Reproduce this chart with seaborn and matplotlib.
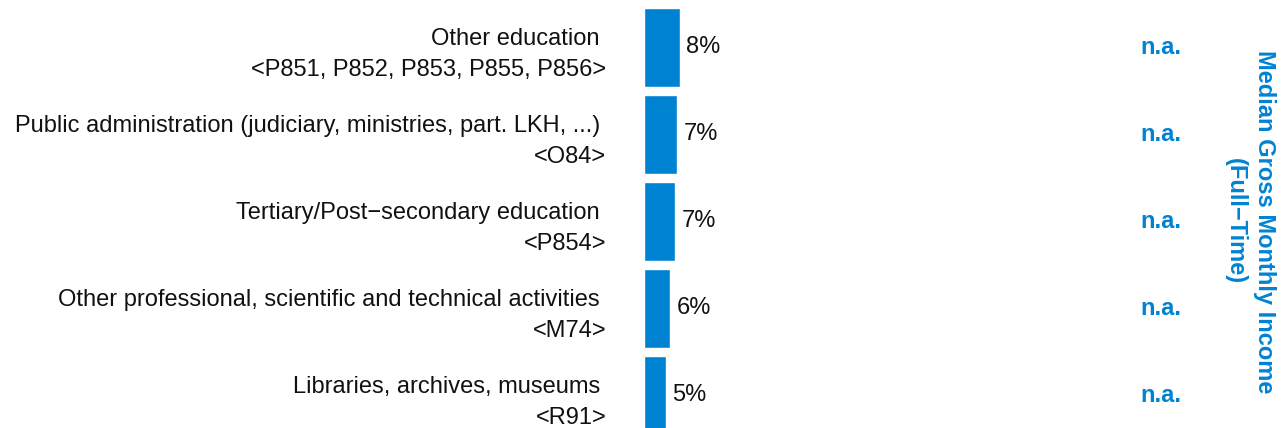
import pandas as pd
import seaborn as sns
from matplotlib import pyplot as plt

blue = "#0082D3"

categories = [
    "Other education \n<P851, P852, P853, P855, P856>",
    "Public administration (judiciary, ministries, part. LKH, ...) \n<O84>",
    "Tertiary/Post\u2212secondary education \n<P854>",
    "Other professional, scientific and technical activities \n<M74>",
    "Libraries, archives, museums \n<R91>",
]
share = [8.0, 7.4, 6.9, 5.8, 4.9]
share_labels = ["8%", "7%", "7%", "6%", "5%"]
income_labels = ["n.a.", "n.a.", "n.a.", "n.a.", "n.a."]

df = pd.DataFrame({"category": categories, "share": share})

sns.set_style("white")
plt.rcParams["font.family"] = ["Liberation Sans", "DejaVu Sans"]

fig = plt.figure(figsize=(12.84, 4.28), dpi=100)
ax = fig.add_axes([644 / 1284, 0, (1284 - 644) / 1284, 1])

sns.barplot(data=df, x="share", y="category", orient="h", color=blue,
            width=0.9, saturation=1, ax=ax)

ax.set_xlim(0, 142)
ax.set_ylim(4.374, -0.546)
ax.set_xticks([])
ax.set_xlabel("")
ax.set_ylabel("")
for s in ax.spines.values():
    s.set_visible(False)

ax.tick_params(axis="y", length=0, pad=27)
for lab in ax.get_yticklabels():
    lab.set_fontsize(17)
    lab.set_linespacing(1.55)
    lab.set_color("#111111")

for i, (v, t) in enumerate(zip(share, share_labels)):
    ax.annotate(t, (v, i), xytext=(4.5, 0), textcoords="offset points",
                ha="left", va="center", fontsize=17, color="#111111")

# n.a. column, x given in figure pixels -> axes fraction
na_x = (1161 - 644) / (1284 - 644)
for i, t in enumerate(income_labels):
    ax.text(na_x, i, t, transform=ax.get_yaxis_transform(),
            ha="center", va="center", fontsize=17, fontweight="bold",
            color=blue)

fig.text(1250 / 1284, 0.4825, "Median Gross Monthly Income\n(Full\u2212Time)",
         rotation=270, ha="center", va="center", fontsize=17,
         fontweight="bold", color=blue, linespacing=1.35)

fig.savefig("out.png", dpi=100)
